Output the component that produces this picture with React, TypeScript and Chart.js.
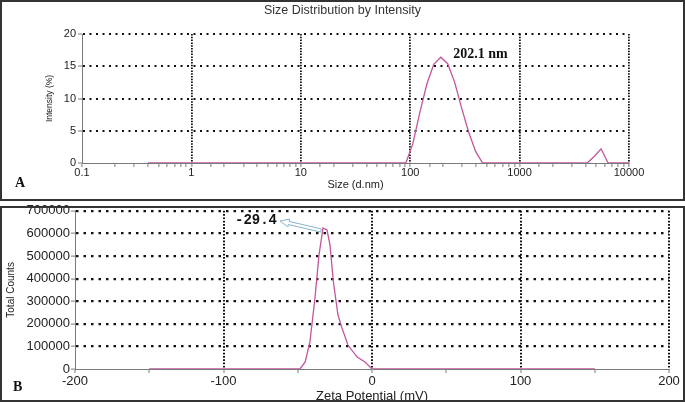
import React, { useEffect, useRef } from "react";
import { Chart, registerables } from "chart.js";

Chart.register(...registerables);

// ---------- Panel A: size distribution ----------
const SIZE_TITLE = "Size Distribution by Intensity";
const SIZE_X_TITLE = "Size (d.nm)";
const SIZE_Y_TITLE = "Intensity (%)";
const SIZE_PEAK_LABEL = "202.1 nm";
const SIZE_NM = [0.4, 91.28, 105.7, 122.4, 141.8, 164.2, 190.1, 220.2, 255.0, 295.3, 342.0, 396.1, 458.7, 4145, 4801, 5560, 6439, 10000];
const INTENSITY_PCT = [0, 0, 3.0, 7.8, 12.2, 15.3, 16.4, 15.4, 12.5, 8.5, 4.8, 1.8, 0, 0, 1.0, 2.2, 0, 0];
const SIZE_AXIS_MIN = 0.1;
const SIZE_AXIS_MAX = 10000;
const INTENSITY_AXIS_MAX = 20;

// ---------- Panel B: zeta potential ----------
const ZETA_X_TITLE = "Zeta Potential (mV)";
const ZETA_Y_TITLE = "Total Counts";
const ZETA_PEAK_LABEL = "-29.4";
const ZETA_MV = [-150, -48.5, -45, -41.8, -38.4, -35.7, -33, -30.3, -28.3, -26, -22.9, -20.2, -16.2, -10, -4.7, 0, 150];
const TOTAL_COUNTS = [0, 0, 31000, 120000, 314000, 504000, 624000, 615000, 549000, 385000, 239000, 181000, 106000, 53000, 31000, 0, 0];
const ZETA_AXIS_MIN = -200;
const ZETA_AXIS_MAX = 200;
const COUNTS_AXIS_MAX = 700000;

const SANS = "'Liberation Sans', Arial, sans-serif";
const NARROW = "'Liberation Sans Narrow', 'Liberation Sans', Arial, sans-serif";
const SERIF = "'Liberation Serif', 'Times New Roman', serif";
const MONO = "'Liberation Mono', 'Courier New', monospace";
const LINE = "#c2559c";
const GRID = "#111111";
const AXIS = "#7a7a7a";
const TEXT = "#222222";

const isMultiple = (v: number, m: number) => Math.abs(v / m - Math.round(v / m)) < 1e-6;
const isDecade = (v: number) => {
  const l = Math.log10(v);
  return Math.abs(l - Math.round(l)) < 1e-6;
};
const argMax = (arr: number[]) => arr.reduce((bi, v, i) => (v > arr[bi] ? i : bi), 0);

const panelAPlugin = {
  id: "panelAOverlay",
  afterLayout(chart: any) {
    // centre the title across the whole panel, not only the padded area
    if (chart.titleBlock) {
      chart.titleBlock.left = 0;
      chart.titleBlock.right = chart.width;
    }
  },
  afterDraw(chart: any) {
    const { ctx } = chart;
    const x = chart.scales.x;
    const y = chart.scales.y;
    ctx.save();
    ctx.fillStyle = "#111";
    ctx.textBaseline = "middle";
    ctx.textAlign = "left";
    ctx.font = `bold 14px ${SERIF}`;
    ctx.fillText("A", 15, 183);
    const pi = argMax(INTENSITY_PCT);
    const px = x.getPixelForValue(SIZE_NM[pi]);
    const py = y.getPixelForValue(INTENSITY_PCT[pi]);
    ctx.font = `bold 14px ${SERIF}`;
    ctx.fillText(SIZE_PEAK_LABEL, px + 12.5, py - 3);
    ctx.restore();
  },
};

const panelBPlugin = {
  id: "panelBOverlay",
  afterDraw(chart: any) {
    const { ctx } = chart;
    const x = chart.scales.x;
    const y = chart.scales.y;
    ctx.save();
    ctx.fillStyle = "#111";
    ctx.textBaseline = "middle";
    ctx.textAlign = "left";
    ctx.font = `bold 14px ${SERIF}`;
    ctx.fillText("B", 13, 185.5);

    const pi = argMax(TOTAL_COUNTS);
    const px = x.getPixelForValue(ZETA_MV[pi]);
    const py = y.getPixelForValue(TOTAL_COUNTS[pi]);

    // hollow arrow from peak to label
    const tail = { x: px - 2, y: py + 2.5 };
    const tip = { x: px - 43, y: py - 7 };
    const dx = tip.x - tail.x;
    const dy = tip.y - tail.y;
    const len = Math.hypot(dx, dy);
    const ux = dx / len, uy = dy / len;
    const nx = -uy, ny = ux;
    const headLen = 9, headW = 4, shaftW = 1.6;
    const neck = { x: tip.x - ux * headLen, y: tip.y - uy * headLen };
    ctx.beginPath();
    ctx.moveTo(tail.x + nx * shaftW, tail.y + ny * shaftW);
    ctx.lineTo(neck.x + nx * shaftW, neck.y + ny * shaftW);
    ctx.lineTo(neck.x + nx * headW, neck.y + ny * headW);
    ctx.lineTo(tip.x, tip.y);
    ctx.lineTo(neck.x - nx * headW, neck.y - ny * headW);
    ctx.lineTo(neck.x - nx * shaftW, neck.y - ny * shaftW);
    ctx.lineTo(tail.x - nx * shaftW, tail.y - ny * shaftW);
    ctx.closePath();
    ctx.fillStyle = "#ffffff";
    ctx.fill();
    ctx.strokeStyle = "#86b3cc";
    ctx.lineWidth = 1;
    ctx.stroke();

    ctx.fillStyle = "#111";
    ctx.textAlign = "right";
    ctx.font = `bold 14px ${MONO}`;
    ctx.fillText(ZETA_PEAK_LABEL, tip.x - 3, py - 8);
    ctx.restore();
  },
};

export default function App() {
  const refA = useRef<HTMLCanvasElement>(null);
  const refB = useRef<HTMLCanvasElement>(null);

  useEffect(() => {
    const chartA = new Chart(refA.current as HTMLCanvasElement, {
      type: "line",
      data: {
        datasets: [
          {
            data: SIZE_NM.map((s, i) => ({ x: s, y: INTENSITY_PCT[i] })),
            borderColor: LINE,
            borderWidth: 1.3,
            pointRadius: 0,
            tension: 0,
            fill: false,
          },
        ],
      },
      options: {
        animation: false,
        responsive: false,
        layout: { padding: { left: 0, right: 56, top: 0, bottom: 0 } },
        plugins: {
          legend: { display: false },
          tooltip: { enabled: false },
          title: {
            display: true,
            text: SIZE_TITLE,
            color: "#333",
            font: { family: SANS, size: 12.5, weight: "normal", lineHeight: 1.2 },
            padding: { top: 3.5, bottom: 15.5 },
          },
        },
        scales: {
          x: {
            type: "logarithmic",
            min: SIZE_AXIS_MIN,
            max: SIZE_AXIS_MAX,
            afterFit: (s: any) => {
              s.height = 38;
            },
            grid: {
              color: (c: any) =>
                c.tick && isDecade(c.tick.value) && c.tick.value > SIZE_AXIS_MIN * 1.001 ? GRID : "transparent",
              lineWidth: 1.8,
              tickLength: 4,
              tickColor: AXIS,
              tickWidth: 1,
            },
            border: { color: AXIS, width: 1, dash: [1.5, 1.3] },
            ticks: {
              autoSkip: false,
              maxRotation: 0,
              padding: 0,
              color: TEXT,
              font: { family: SANS, size: 11, lineHeight: 1 },
              callback: (v: any) => (isDecade(Number(v)) ? String(Number(v)) : ""),
            },
            title: {
              display: true,
              text: SIZE_X_TITLE,
              color: TEXT,
              font: { family: SANS, size: 11, lineHeight: 1.2 },
              padding: { top: 0, bottom: 9.4 },
            },
          },
          y: {
            type: "linear",
            min: 0,
            max: INTENSITY_AXIS_MAX,
            afterFit: (s: any) => {
              s.width = 82;
            },
            grid: {
              color: (c: any) => (c.tick && c.tick.value > 0 && isMultiple(c.tick.value, 5) ? GRID : "transparent"),
              lineWidth: 2,
              tickLength: 4,
              tickColor: AXIS,
              tickWidth: 1,
            },
            border: { color: AXIS, width: 1, dash: [2, 4.5] },
            ticks: {
              stepSize: 2.5,
              padding: 2,
              color: TEXT,
              font: { family: SANS, size: 11 },
              callback: (v: any) => (isMultiple(Number(v), 5) ? String(v) : ""),
            },
            title: {
              display: true,
              text: SIZE_Y_TITLE,
              color: TEXT,
              font: { family: NARROW, size: 8.5, lineHeight: 1.2 },
              padding: { top: 45, bottom: 0 },
            },
          },
        },
      },
      plugins: [panelAPlugin],
    } as any);

    const chartB = new Chart(refB.current as HTMLCanvasElement, {
      type: "line",
      data: {
        datasets: [
          {
            data: ZETA_MV.map((z, i) => ({ x: z, y: TOTAL_COUNTS[i] })),
            borderColor: LINE,
            borderWidth: 1.3,
            pointRadius: 0,
            tension: 0,
            fill: false,
          },
        ],
      },
      options: {
        animation: false,
        responsive: false,
        layout: { padding: { left: 0, right: 16, top: 8.7, bottom: 0 } },
        plugins: {
          legend: { display: false },
          tooltip: { enabled: false },
          title: { display: false },
        },
        scales: {
          x: {
            type: "linear",
            min: ZETA_AXIS_MIN,
            max: ZETA_AXIS_MAX,
            afterFit: (s: any) => {
              s.height = 43;
            },
            grid: {
              color: (c: any) =>
                c.tick && c.tick.value > ZETA_AXIS_MIN && isMultiple(c.tick.value, 100) ? GRID : "transparent",
              lineWidth: 2,
              tickLength: 4,
              tickColor: AXIS,
              tickWidth: 1,
            },
            border: { color: AXIS, width: 1, dash: [1.7, 1.6] },
            ticks: {
              stepSize: 50,
              autoSkip: false,
              maxRotation: 0,
              padding: 2,
              color: TEXT,
              font: { family: SANS, size: 13, lineHeight: 1 },
              callback: (v: any) => (isMultiple(Number(v), 100) ? String(v) : ""),
            },
            title: {
              display: true,
              text: ZETA_X_TITLE,
              color: TEXT,
              font: { family: SANS, size: 13, lineHeight: 1.2 },
              padding: { top: 0, bottom: 7.7 },
            },
          },
          y: {
            type: "linear",
            min: 0,
            max: COUNTS_AXIS_MAX,
            afterFit: (s: any) => {
              s.width = 75;
            },
            grid: {
              color: (c: any) => (c.tick && c.tick.value > 0 && isMultiple(c.tick.value, 100000) ? GRID : "transparent"),
              lineWidth: 2.2,
              tickLength: 4,
              tickColor: AXIS,
              tickWidth: 1,
            },
            border: { color: AXIS, width: 1, dash: [2.5, 5] },
            ticks: {
              stepSize: 50000,
              padding: 1,
              color: TEXT,
              font: { family: SANS, size: 13, lineHeight: 1.2 },
              callback: (v: any) => (isMultiple(Number(v), 100000) ? String(v) : ""),
            },
            title: {
              display: true,
              text: ZETA_Y_TITLE,
              color: TEXT,
              font: { family: NARROW, size: 10, lineHeight: 1.2 },
              padding: { top: 5, bottom: 0 },
            },
          },
        },
      },
      plugins: [panelBPlugin],
    } as any);

    return () => {
      chartA.destroy();
      chartB.destroy();
    };
  }, []);

  return (
    <div
      style={{
        position: "absolute",
        left: 0,
        top: 0,
        width: 685,
        height: 402,
        overflow: "hidden",
        background: "#ffffff",
      }}
    >
      <div style={{ position: "absolute", left: 0, top: 0, width: 685, height: 201 }}>
        <canvas ref={refA} width={685} height={201} style={{ display: "block" }} />
      </div>
      <div style={{ position: "absolute", left: 0, top: 202, width: 685, height: 210 }}>
        <canvas ref={refB} width={685} height={210} style={{ display: "block" }} />
      </div>
      <div
        style={{
          position: "absolute",
          left: 0,
          top: 0,
          width: 685,
          height: 201,
          border: "2px solid #333",
          boxSizing: "border-box",
          pointerEvents: "none",
        }}
      />
      <div
        style={{
          position: "absolute",
          left: 0,
          top: 206,
          width: 685,
          height: 196,
          border: "2px solid #333",
          boxSizing: "border-box",
          pointerEvents: "none",
        }}
      />
    </div>
  );
}
